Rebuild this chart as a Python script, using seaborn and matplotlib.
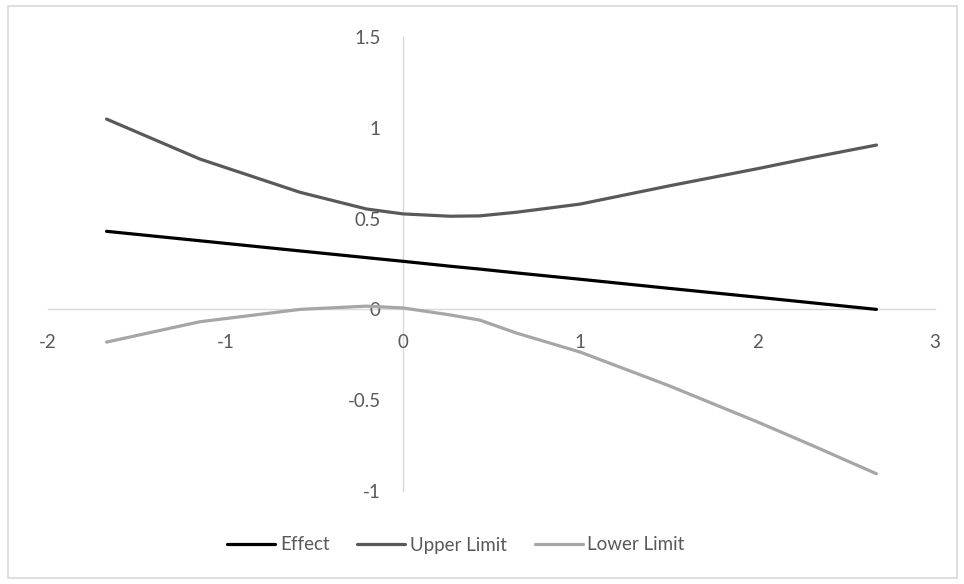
import seaborn as sns
import matplotlib.pyplot as plt
import pandas as pd
from matplotlib.patches import Rectangle

# values
x_vals = [-1.67, -1.144, -0.58, -0.205, 0.0, 0.265, 0.434, 0.64, 1.0, 1.5, 2.0, 2.31, 2.67]
effect = [0.43, 0.378, 0.322, 0.285, 0.265, 0.238, 0.222, 0.201, 0.166, 0.116, 0.067, 0.036, 0.0]
upper = [1.048, 0.828, 0.645, 0.553, 0.526, 0.513, 0.515, 0.535, 0.58, 0.68, 0.775, 0.837, 0.905]
lower = [-0.18, -0.068, 0.0, 0.018, 0.008, -0.03, -0.059, -0.13, -0.235, -0.42, -0.62, -0.75, -0.905]

series_names = ["Effect", "Upper Limit", "Lower Limit"]
colors = ["#000000", "#595959", "#a6a6a6"]

n = len(x_vals)
df = pd.DataFrame({
    "x": x_vals * 3,
    "y": effect + upper + lower,
    "series": [series_names[0]] * n + [series_names[1]] * n + [series_names[2]] * n,
})

sns.set_style("white")
plt.rcParams["font.family"] = ["Lato", "DejaVu Sans"]

fig = plt.figure(figsize=(9.64, 5.84), dpi=100)
ax = fig.add_axes([48 / 964, 1 - 491 / 584, (935 - 48) / 964, (491 - 37) / 584])

sns.lineplot(data=df, x="x", y="y", hue="series", palette=colors, linewidth=2.3, ax=ax, sort=False)
for line in ax.lines:
    line.set_solid_joinstyle("round")
    line.set_solid_capstyle("round")

ax.set_xlim(-2, 3)
ax.set_ylim(-1, 1.5)
ax.set_xticks([-2, -1, 0, 1, 2, 3])
ax.set_yticks([-1, -0.5, 0, 0.5, 1, 1.5])
ax.set_xticklabels(["-2", "-1", "0", "1", "2", "3"])
ax.set_yticklabels(["-1", "-0.5", "0", "0.5", "1", "1.5"])
ax.set_xlabel("")
ax.set_ylabel("")

for s in ["top", "right"]:
    ax.spines[s].set_visible(False)
ax.spines["left"].set_position(("data", 0))
ax.spines["bottom"].set_position(("data", 0))
for s in ["left", "bottom"]:
    ax.spines[s].set_color("#d9d9d9")
    ax.spines[s].set_linewidth(1.0)
    ax.spines[s].set_zorder(0)

ax.tick_params(axis="x", length=0, pad=18, labelsize=13.5, labelcolor="#595959")
ax.tick_params(axis="y", length=0, pad=16, labelsize=13.5, labelcolor="#595959")

ax.legend(loc="center", bbox_to_anchor=(456 / 964, 1 - 545 / 584), bbox_transform=fig.transFigure,
          ncol=3, frameon=False, fontsize=13.5, handlelength=2.55, handletextpad=0.25,
          columnspacing=1.5, labelcolor="#595959")

fig.patches.append(Rectangle((8 / 964, 6 / 584), (957 - 8) / 964, (578 - 6) / 584,
                             transform=fig.transFigure, fill=False, edgecolor="#d9d9d9", linewidth=1.2))

fig.savefig("out.png", dpi=100)
